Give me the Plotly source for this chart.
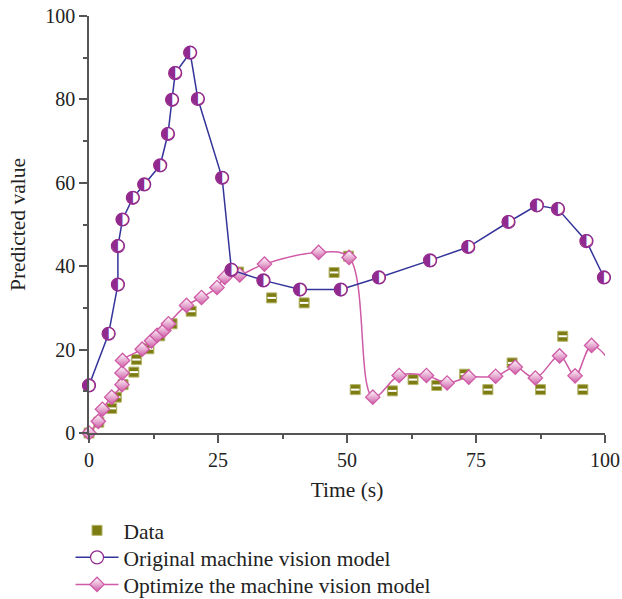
import plotly.graph_objects as go

# Data (olive squares)
data_x = [0, 1.9, 4.4, 5.3, 6.6, 8.7, 9.2, 11.6, 13.7, 16.1, 19.8, 29.0, 35.4, 41.7, 47.5, 50.3,
          51.6, 58.8, 62.8, 67.4, 72.8, 77.3, 82.0, 87.5, 91.8, 95.7, 100.4]
data_y = [0, 2.6, 5.9, 8.6, 11.6, 14.6, 17.6, 20.2, 23.3, 26.2, 29.2, 38.6, 32.4, 31.2, 38.5, 42.4,
          10.4, 10.1, 12.8, 11.4, 14.1, 10.4, 16.8, 10.4, 23.2, 10.4, 26.1]

# Original machine vision model
orig_x = [0, 3.8, 5.6, 5.6, 6.5, 8.5, 10.7, 13.8, 15.3, 16.1, 16.7, 19.6, 21.1, 25.8, 27.6,
          33.8, 40.9, 48.8, 56.2, 66.1, 73.5, 81.3, 86.8, 90.9, 96.4, 99.8]
orig_y = [11.4, 23.8, 35.6, 44.8, 51.2, 56.4, 59.6, 64.2, 71.7, 79.9, 86.3, 91.2, 80.1, 61.2, 39.1,
          36.6, 34.4, 34.4, 37.3, 41.4, 44.6, 50.6, 54.6, 53.7, 46.0, 37.3]

# Optimize the machine vision model
opt_x = [0, 1.8, 2.6, 4.4, 6.4, 6.4, 6.5, 10.3, 12.1, 13.2, 14.5, 15.4, 18.9, 21.8, 24.8, 26.3,
         29.2, 34.0, 44.5, 50.4, 55.0, 60.1, 65.4, 69.4, 73.6, 78.8, 82.6, 86.5, 91.2, 94.2, 97.4, 100.9]
opt_y = [0, 2.8, 5.7, 8.6, 11.6, 14.4, 17.4, 20.1, 22.1, 23.4, 24.6, 26.2, 30.6, 32.5, 34.9, 37.3,
         37.9, 40.5, 43.3, 42.1, 8.6, 13.8, 13.8, 12.0, 13.4, 13.6, 15.8, 13.2, 18.5, 13.7, 21.0, 17.3]

x_ticks = [0, 25, 50, 75, 100]
y_ticks = [0, 20, 40, 60, 80, 100]

FONT = "Liberation Serif"
OLIVE = "#7c7c12"
PURPLE = "#912a8e"
BLUE = "#34349a"
PINK = "#cf5aa6"

fig = go.Figure()

fig.add_trace(go.Scatter(
    x=data_x, y=data_y, mode="markers", name="Data", legend="legend",
    marker=dict(symbol="square", size=10, color=OLIVE, line=dict(color="#b4b46a", width=1)),
    cliponaxis=False,
))
fig.add_trace(go.Scatter(
    x=data_x, y=data_y, mode="markers", showlegend=False, hoverinfo="skip",
    marker=dict(symbol="line-ew", size=6, line=dict(color="white", width=2)),
    cliponaxis=False,
))
fig.add_trace(go.Scatter(
    x=opt_x, y=opt_y, mode="lines+markers", name="Optimize the machine vision model", legend="legend3",
    line=dict(color=PINK, width=1.5, shape="spline", smoothing=1.0),
    marker=dict(symbol="diamond", size=11, color="white", line=dict(color=PINK, width=1.3),
                gradient=dict(type="vertical", color=PINK)),
    cliponaxis=False,
))
fig.add_trace(go.Scatter(
    x=orig_x, y=orig_y, mode="lines+markers", name="Original machine vision model", legend="legend2",
    line=dict(color=BLUE, width=1.5),
    marker=dict(symbol="circle", size=13, color="white", line=dict(color=PURPLE, width=1.2)),
    cliponaxis=False,
))
fig.add_trace(go.Scatter(
    x=orig_x, y=orig_y, mode="text", text=["\u25D0"] * len(orig_x), showlegend=False, hoverinfo="skip",
    textposition="middle center", textfont=dict(family="DejaVu Sans", size=17, color=PURPLE),
    cliponaxis=False,
))

axis_common = dict(
    showgrid=False, zeroline=False, showline=True, linecolor="#555555", linewidth=1.5,
    ticks="outside", ticklen=8, tickwidth=1.5, tickcolor="#555555",
    tickfont=dict(family=FONT, size=20, color="#222222"),
    minor=dict(ticks="outside", ticklen=4, tickwidth=1.5, tickcolor="#555555"),
)

leg_common = dict(x=-0.0358, xanchor="left", yanchor="middle", orientation="v", itemwidth=43,
                  font=dict(family=FONT, size=21.5, color="#222222"), bgcolor="rgba(0,0,0,0)")

fig.update_layout(
    width=622, height=599,
    margin=dict(l=88.5, r=16.7, t=16, b=166.3, autoexpand=False),
    paper_bgcolor="white", plot_bgcolor="white",
    font=dict(family=FONT, size=21, color="#222222"),
    xaxis=dict(range=[0, 100], tickvals=x_ticks, minor_dtick=12.5,
               title=dict(text="Time (s)", font=dict(family=FONT, size=21.5), standoff=12),
               **axis_common),
    yaxis=dict(range=[0, 100], tickvals=y_ticks, minor_dtick=10,
               title=dict(text="Predicted value", font=dict(family=FONT, size=21.5), standoff=14),
               **axis_common),
    legend=dict(y=-0.2335, **leg_common),
    legend2=dict(y=-0.2983, **leg_common),
    legend3=dict(y=-0.3631, **leg_common),
    showlegend=True,
)

fig.write_html("out.html")
